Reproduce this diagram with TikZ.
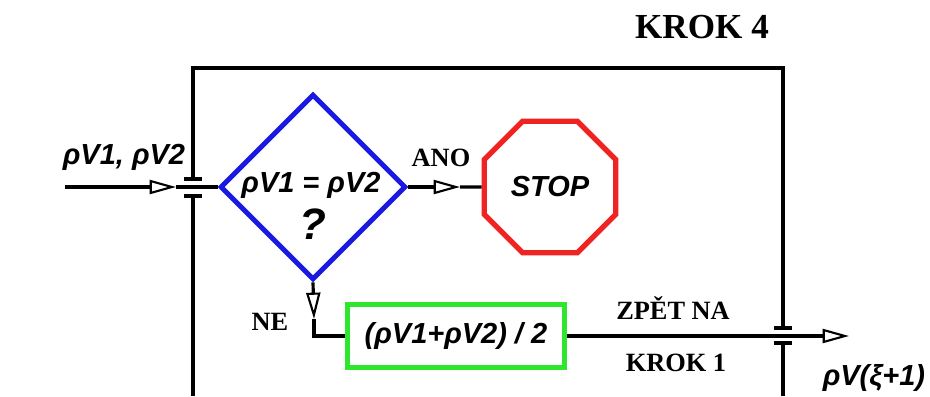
\documentclass[tikz,border=0pt]{standalone}
\usepackage{fontspec}
\setmainfont{Liberation Serif}
\setsansfont{Liberation Sans}
\usetikzlibrary{shapes.geometric,arrows.meta}
\definecolor{krokblue}{RGB}{25,25,225}
\definecolor{krokred}{RGB}{240,35,35}
\definecolor{krokgreen}{RGB}{45,230,45}

\begin{document}
\begin{tikzpicture}[x=0.02cm,y=-0.02cm,
    frame/.style={line width=1.8pt},
    wire/.style={line width=1.8pt},
    opentip/.style={-{Triangle[open,length=15pt,width=8pt,line width=1.2pt]}},
    lbl/.style={font=\bfseries\fontsize{15}{17}\selectfont},
    sym/.style={font=\sffamily\bfseries\itshape\fontsize{16.5}{18}\selectfont}]
  \useasboundingbox (0,0) rectangle (930,396);
  \node[font=\bfseries\fontsize{20}{22}\selectfont] (title) at (702,27) {KROK 4};
  % frame, cut open at the two ports
  \draw[frame] (193,179) -- (193,68) -- (783,68) -- (783,328);
  \draw[frame] (193,196) -- (193,396);
  \draw[frame] (783,343) -- (783,396);
  \foreach \y in {179,196}{\draw[frame] (184,\y) -- (202,\y);}
  \foreach \y in {328,343}{\draw[frame] (774,\y) -- (792,\y);}
  % blocks
  \node[diamond,draw=krokblue,line width=2.8pt,minimum width=3.72cm,minimum height=3.72cm,inner sep=0pt] (dec) at (313,187) {};
  \node[sym] (eq) at (311,185) {ρV1 = ρV2};
  \node[sym,font=\sffamily\bfseries\itshape\fontsize{25}{27}\selectfont] (qm) at (313,224) {?};
  \node[regular polygon,regular polygon sides=8,draw=krokred,line width=3pt,minimum size=2.85cm,inner sep=0pt,sym] (stop) at (550,187) {STOP};
  \node[draw=krokgreen,line width=3pt,minimum width=4.34cm,minimum height=1.26cm,sym] (avg) at (456,336) {(ρV1+ρV2) / 2};
  % connectors
  \coordinate (src) at (65,187);
  \coordinate (inTip) at (176,187);
  \coordinate (anoTip) at (460,187);
  \coordinate (neTip) at (314,319);
  \coordinate (out) at (849,336);
  \draw[wire,opentip] (src) -- (inTip);
  \draw[wire] (inTip) -- (dec.west);
  \draw[wire,opentip] (dec.east) -- (anoTip);
  \draw[wire] (anoTip) -- (stop.west);
  \draw[wire,opentip] (dec.south) -- (neTip);
  \draw[wire] (neTip) |- (avg.west);
  \draw[wire,opentip] (avg.east) -- (out);
  % labels
  \node[sym] (inLbl) at (124,157) {ρV1, ρV2};
  \node[lbl] (ano) at (441,158) {ANO};
  \node[lbl] (ne) at (270,322) {NE};
  \node[lbl] (back1) at (673,308) {ZPĚT NA};
  \node[lbl] (back2) at (676,363) {KROK 1};
  \node[sym] (outLbl) at (874,378) {ρV(ξ+1)};
\end{tikzpicture}
\end{document}
